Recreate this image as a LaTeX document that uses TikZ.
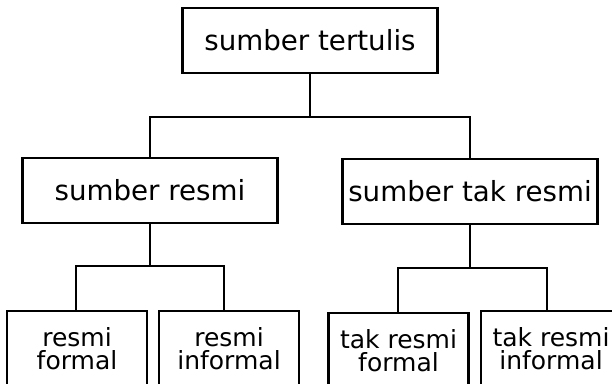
\documentclass[tikz,border=0pt]{standalone}
\usepackage{fontspec}
\setmainfont{DejaVu Sans}

\begin{document}
\begin{tikzpicture}[x=1pt,y=1pt,
  kotak/.style={draw,line width=2.2pt,minimum width=255pt,minimum height=65pt,inner sep=0pt,font=\fontsize{27.7}{30}\selectfont},
  daun/.style={draw,line width=2.2pt,anchor=north,minimum width=140pt,inner sep=0pt,align=center,
    text height=58pt,text depth=30pt,font=\fontsize{25}{23}\selectfont},
  garis/.style={line width=2.2pt}]
\useasboundingbox (0,0) rectangle (612,383);
\clip (0,0) rectangle (612,383);

%top
\node[kotak] (tulis) at (310,342.5) {sumber tertulis};

%middle
\node[kotak] (resmi) at (150,192.5) {sumber resmi};
\node[kotak] (takresmi) at (470,191.5) {sumber tak resmi};

%bottom
\node[daun] (rformal) at (77,73) {resmi\\formal};
\node[daun] (rinformal) at (229,73) {resmi\\informal};
\node[daun] (tformal) at (398.5,71) {tak resmi\\formal};
\node[daun] (tinformal) at (551,73) {tak resmi\\informal};

\draw[garis] (tulis.south) -- ++(0,-43) -| (resmi.north);
\draw[garis] (tulis.south) -- ++(0,-43) -| (takresmi.north);
\draw[garis] (resmi.south) -- ++(0,-42) -| ([xshift=-1pt]rformal.north);
\draw[garis] (resmi.south) -- ++(0,-42) -| ([xshift=-5pt]rinformal.north);
\draw[garis] (takresmi.south) -- ++(0,-43) -| ([xshift=-0.5pt]tformal.north);
\draw[garis] (takresmi.south) -- ++(0,-43) -| ([xshift=-4pt]tinformal.north);

\end{tikzpicture}
\end{document}
